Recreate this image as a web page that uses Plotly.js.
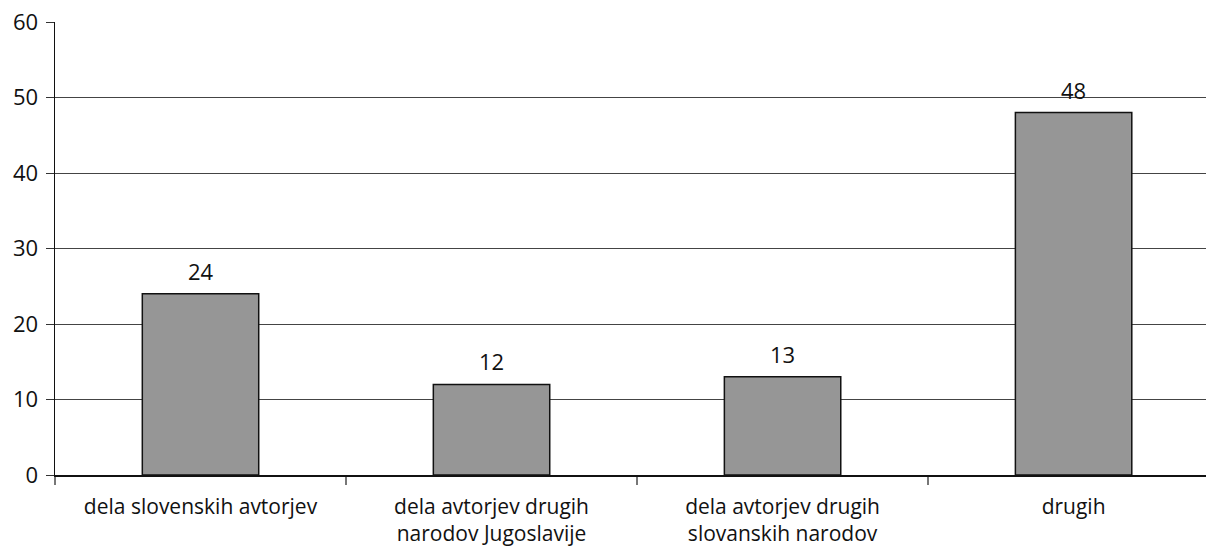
<!DOCTYPE html>
<html>
<head>
<meta charset="utf-8">
<script src="https://cdn.plot.ly/plotly-3.0.1.min.js"></script>
<style>html,body{margin:0;padding:0;background:#fff;overflow:hidden}#chart{width:1206px;height:552px}</style>
</head>
<body>
<div id="chart"></div>
<script>
const categories = [
  "dela slovenskih avtorjev",
  "dela avtorjev drugih<br>narodov Jugoslavije",
  "dela avtorjev drugih<br>slovanskih narodov",
  "drugih"
];
const values = [24, 12, 13, 48];
const yTicks = [0, 10, 20, 30, 40, 50, 60];

const font = {family: "'Open Sans', sans-serif", size: 22, color: "#111"};
const xFont = {family: "'Open Sans', sans-serif", size: 21, color: "#111"};

Plotly.newPlot("chart", [{
  type: "bar",
  x: categories,
  y: values,
  marker: {color: "#969696", line: {color: "#111", width: 1.5}},
  width: 0.4,
  hoverinfo: "none"
}], {
  width: 1206, height: 552,
  margin: {l: 55, r: 0, t: 22, b: 77},
  paper_bgcolor: "#fff", plot_bgcolor: "#fff",
  showlegend: false,
  font: font,
  annotations: categories.map((c, i) => ({
    x: c, y: values[i], xref: "x", yref: "y",
    text: String(values[i]), showarrow: false,
    yanchor: "middle", yshift: 23, font: font
  })),
  xaxis: {
    type: "category",
    range: [-0.5, 3.455],
    tickson: "boundaries",
    ticks: "outside", ticklen: 8, tickcolor: "#777", tickwidth: 1.5,
    showline: true, linecolor: "#111", linewidth: 1.5,
    showgrid: false,
    tickfont: xFont,
    ticklabelstandoff: 12,
    fixedrange: true
  },
  yaxis: {
    range: [0, 60],
    tickvals: yTicks,
    ticks: "outside", ticklen: 8, tickcolor: "#333",
    showline: true, linecolor: "#111", linewidth: 1.5,
    showgrid: true, gridcolor: "#444", gridwidth: 1,
    zeroline: false,
    tickfont: font,
    ticklabelstandoff: 3,
    fixedrange: true
  },
  bargap: 0.6
}, {displayModeBar: false, staticPlot: true});
</script>
</body>
</html>
